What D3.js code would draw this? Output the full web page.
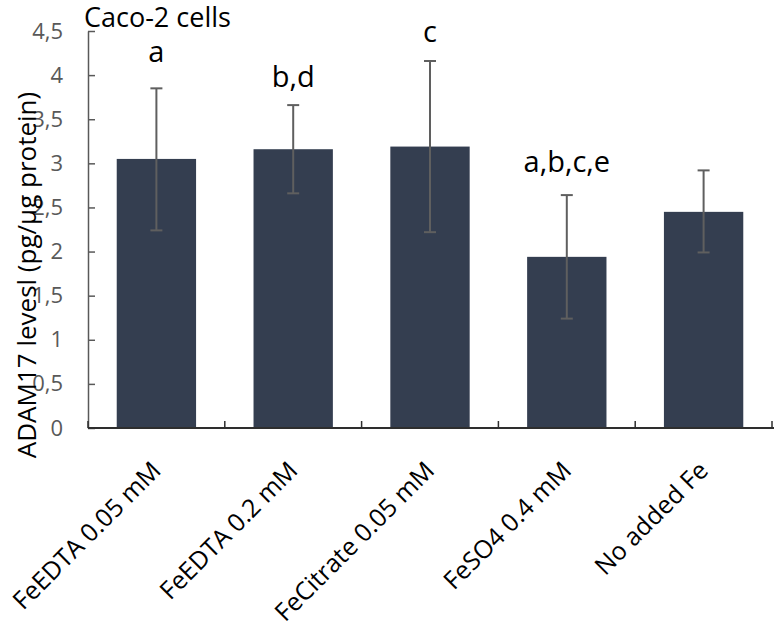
<!DOCTYPE html>
<html><head><meta charset="utf-8">
<script src="https://cdn.jsdelivr.net/npm/d3@7"></script>
<style>body{margin:0;background:#fff}svg{display:block}</style>
</head><body>
<script>
const categories = ["FeEDTA 0.05 mM","FeEDTA 0.2 mM","FeCitrate 0.05 mM","FeSO4 0.4 mM","No added Fe"];
const values = [3.05, 3.16, 3.19, 1.94, 2.45];
const errUpper = [0.80, 0.50, 0.97, 0.70, 0.47];
const errLower = [0.81, 0.50, 0.97, 0.70, 0.46];
const letters = ["a","b,d","c","a,b,c,e",""];
const letterY = [4.15, 3.87, 4.37, 2.90, null];
const yTicks = [0,0.5,1,1.5,2,2.5,3,3.5,4,4.5];

const W=774,H=631;
const svg=d3.select("body").append("svg").attr("width",W).attr("height",H);
const font="'Open Sans', sans-serif";
const x=d3.scaleBand().domain(categories).range([88,772]).paddingInner(0.42).paddingOuter(0.21);
const y=d3.scaleLinear().domain([0,4.5]).range([428,31]);

// bars
svg.selectAll("rect.bar").data(values).join("rect")
 .attr("x",(d,i)=>x(categories[i])).attr("width",x.bandwidth())
 .attr("y",d=>y(d)).attr("height",d=>y(0)-y(d)).attr("fill","#343e50");

// error bars
const eg=svg.append("g").attr("stroke","#5f5f5f").attr("stroke-width",2);
values.forEach((v,i)=>{
  const cx=x(categories[i])+x.bandwidth()/2;
  eg.append("line").attr("x1",cx).attr("x2",cx).attr("y1",y(v+errUpper[i])).attr("y2",y(v-errLower[i]));
  eg.append("line").attr("x1",cx-6).attr("x2",cx+6).attr("y1",y(v+errUpper[i])).attr("y2",y(v+errUpper[i]));
  eg.append("line").attr("x1",cx-6).attr("x2",cx+6).attr("y1",y(v-errLower[i])).attr("y2",y(v-errLower[i]));
});

// y axis (ticks point inward)
const ya=svg.append("g").attr("transform","translate(88,0)")
 .call(d3.axisLeft(y).tickValues(yTicks).tickSizeInner(-7).tickSizeOuter(0).tickPadding(25).tickFormat(d=>String(d).replace(".",",")));
ya.select(".domain").attr("stroke","#595959").attr("stroke-width",1.5);
ya.selectAll(".tick line").attr("stroke","#595959").attr("stroke-width",1.5);
ya.selectAll(".tick text").attr("fill","#595959").style("font-family",font).style("font-size","22px");

// x axis
const xa=svg.append("g").attr("transform","translate(0,428)");
xa.append("line").attr("x1",88).attr("x2",774).attr("y1",0).attr("y2",0).attr("stroke","#2e2e2e").attr("stroke-width",2);
const gap=(x.step()-x.bandwidth())/2;
const bounds=categories.map(c=>x(c)-gap).concat([x(categories[categories.length-1])+x.bandwidth()+gap]);
bounds.forEach(b=>xa.append("line").attr("x1",b).attr("x2",b).attr("y1",0).attr("y2",-7).attr("stroke","#2e2e2e").attr("stroke-width",1.5));
categories.forEach(c=>{
  const cx=x(c)+x.bandwidth()/2+6;
  xa.append("text").attr("transform",`translate(${cx},44) rotate(-45)`).attr("text-anchor","end")
    .style("font-family",font).style("font-size","25px").attr("fill","#000").text(c);
});

// letters
letters.forEach((l,i)=>{
  if(!l) return;
  svg.append("text").attr("x",x(categories[i])+x.bandwidth()/2).attr("y",y(letterY[i]))
   .attr("text-anchor","middle").style("font-family",font).style("font-size","29px").attr("fill","#000").text(l);
});

// title
svg.append("text").attr("x",84).attr("y",27).style("font-family",font).style("font-size","27px").attr("fill","#000").text("Caco-2 cells");

// y title
svg.append("text").attr("transform","translate(36,275) rotate(-90)").attr("text-anchor","middle")
 .style("font-family",font).style("font-size","26px").attr("fill","#000").text("ADAM17 levesl (pg/µg protein)");
</script>
</body></html>
